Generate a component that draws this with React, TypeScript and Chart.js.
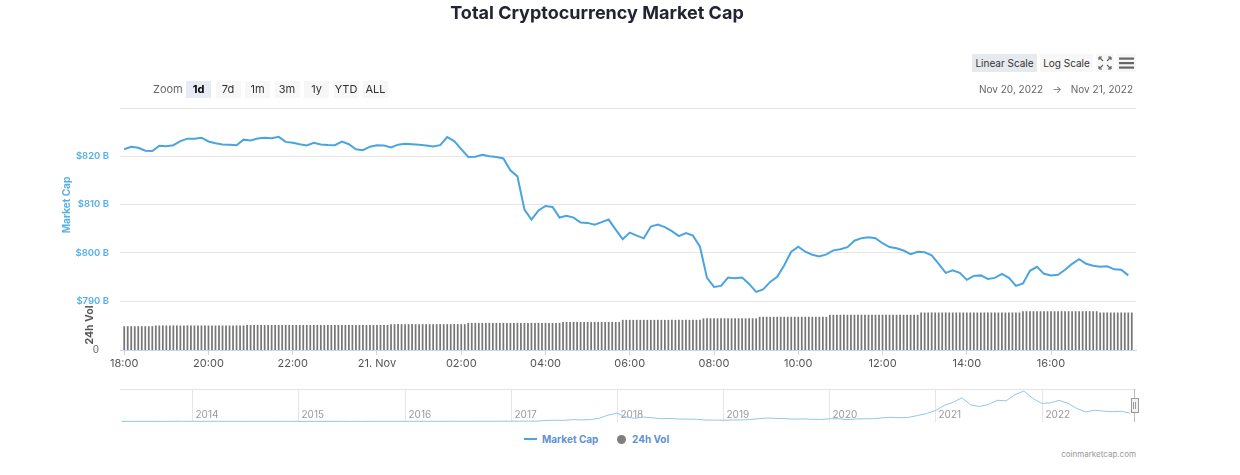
import React, { useEffect, useRef } from "react";
import { Chart, registerables } from "chart.js";

Chart.register(...registerables);

// ---------- DATA ----------
// x positions in minutes after 20 Nov 2022 18:00
const hourTickMinutes = [0, 120, 240, 360, 480, 600, 720, 840, 960, 1080, 1200, 1320];
const hourTickLabels = ["18:00", "20:00", "22:00", "21. Nov", "02:00", "04:00", "06:00", "08:00", "10:00", "12:00", "14:00", "16:00"];

const capTickValues = [790, 800, 810, 820, 830];
const capTickLabels = ["$790 B", "$800 B", "$810 B", "$820 B", ""];

const capStepMinutes = 10;
// total market cap, $ billions, one value every 10 minutes from 18:00
const marketCap = [
  821.46, 821.98, 821.77, 821.15, 821.10, 822.19, 822.08, 822.29, 823.13, 823.65, 823.65, 823.85,
  823.06, 822.71, 822.44, 822.40, 822.29, 823.44, 823.27, 823.69, 823.81, 823.75, 824.02, 822.98,
  822.81, 822.50, 822.23, 822.77, 822.44, 822.33, 822.29, 823.02, 822.50, 821.46, 821.25, 821.98,
  822.29, 822.23, 821.81, 822.40, 822.60, 822.50, 822.40, 822.23, 822.02, 822.29, 823.96, 823.13,
  821.46, 819.85, 819.90, 820.31, 820.00, 819.85, 819.54, 817.08, 815.83, 808.96, 806.88, 808.75,
  809.69, 809.48, 807.29, 807.65, 807.29, 806.25, 806.19, 805.83, 806.35, 806.88, 804.79, 802.81,
  804.17, 803.54, 802.98, 805.42, 805.83, 805.31, 804.48, 803.44, 804.06, 803.54, 801.25, 794.79,
  792.92, 793.13, 794.85, 794.73, 794.85, 793.54, 791.88, 792.40, 793.96, 795.00, 797.40, 800.21,
  801.25, 800.21, 799.58, 799.25, 799.65, 800.50, 800.71, 801.15, 802.50, 803.02, 803.23, 803.02,
  801.98, 801.19, 800.94, 800.46, 799.69, 800.21, 800.10, 799.48, 797.71, 795.83, 796.35, 795.83,
  794.38, 795.21, 795.31, 794.58, 794.79, 795.63, 794.79, 793.13, 793.65, 796.25, 797.08, 795.63,
  795.31, 795.42, 796.46, 797.71, 798.65, 797.71, 797.29, 797.08, 797.19, 796.56, 796.46, 795.31,
];

const volStepMinutes = 5;
// 24h volume, $ billions, one bar every 5 minutes from 18:00
const volume24h = [
  38.8, 38.8, 38.9, 38.8, 38.8, 38.9, 38.8, 38.8, 38.9, 40.0, 40.0, 40.1,
  40.0, 40.0, 40.1, 40.0, 40.0, 40.0, 40.1, 40.0, 40.0, 40.1, 40.0, 40.0,
  40.0, 40.1, 40.0, 40.0, 40.0, 40.1, 40.0, 40.0, 40.1, 40.0, 40.0, 40.8,
  40.8, 40.8, 40.9, 40.8, 40.8, 40.8, 40.9, 40.8, 40.8, 40.8, 40.9, 40.8,
  40.8, 40.8, 40.9, 40.8, 40.8, 40.8, 40.9, 40.8, 40.8, 40.8, 40.9, 40.8,
  40.8, 40.8, 40.9, 40.8, 40.8, 40.8, 40.9, 40.8, 40.8, 40.8, 40.9, 40.8,
  40.8, 40.8, 40.9, 40.8, 42.2, 42.2, 42.3, 42.2, 42.2, 42.2, 42.3, 42.2,
  42.2, 42.2, 42.3, 42.2, 42.2, 42.2, 42.3, 42.2, 42.2, 42.2, 42.3, 42.2,
  42.2, 42.2, 44.2, 44.2, 44.3, 44.2, 44.2, 44.2, 44.3, 44.2, 44.2, 44.2,
  44.3, 44.2, 44.2, 44.2, 44.3, 44.2, 44.2, 44.2, 44.3, 44.2, 44.2, 44.2,
  44.3, 44.2, 44.2, 44.2, 44.3, 45.8, 45.8, 45.9, 45.8, 45.8, 45.8, 45.9,
  45.8, 45.8, 45.8, 45.9, 45.8, 45.8, 45.8, 45.9, 45.8, 45.8, 49.2, 49.2,
  49.3, 49.2, 49.2, 49.2, 49.3, 49.2, 49.2, 49.2, 49.3, 49.2, 49.2, 49.2,
  49.3, 49.2, 49.2, 49.2, 49.3, 49.2, 49.2, 49.2, 49.3, 51.7, 51.7, 51.8,
  51.7, 51.7, 51.7, 51.8, 51.7, 51.7, 51.7, 51.8, 51.7, 51.7, 51.7, 51.8,
  51.7, 54.2, 54.2, 54.3, 54.2, 54.2, 54.2, 54.3, 54.2, 54.2, 54.2, 54.3,
  54.2, 54.2, 54.2, 54.3, 54.2, 54.2, 54.2, 54.3, 54.2, 57.5, 57.5, 57.6,
  57.5, 57.5, 57.5, 57.6, 57.5, 57.5, 57.5, 57.6, 57.5, 57.5, 57.5, 57.6,
  57.5, 57.5, 57.5, 57.6, 57.5, 57.5, 57.5, 57.6, 57.5, 57.5, 57.5, 61.2,
  61.2, 61.2, 61.3, 61.2, 61.2, 61.2, 61.3, 61.2, 61.2, 61.2, 61.3, 61.2,
  61.2, 61.2, 61.3, 61.2, 61.2, 61.2, 61.3, 61.2, 61.2, 61.2, 61.3, 61.2,
  61.2, 61.2, 61.3, 61.2, 63.3, 63.3, 63.4, 63.3, 63.3, 63.3, 63.4, 63.3,
  63.3, 63.3, 63.4, 63.3, 63.3, 63.3, 63.4, 63.3, 63.3, 63.3, 63.4, 63.3,
  63.3, 63.3, 61.2, 61.2, 61.3, 61.2, 61.2, 61.2, 61.3, 61.2, 61.2, 61.2,
];

// navigator: monthly total market cap, $ billions, from May 2013 to Nov 2022
const navStartYear = 2013;
const navStartMonth = 5;
const navMarketCap = [
  1.5, 1.2, 1.1, 1.4, 1.6, 2.3, 12, 9,
  10, 7.5, 6.5, 6, 7, 8, 7.5, 6.2, 5.5, 4.8, 5.3, 4.5,
  3.5, 3.4, 3.6, 3.3, 3.3, 3.6, 4.4, 3.9, 3.6, 4.6, 6, 7,
  6.8, 7.5, 7, 7.8, 9, 11.5, 10.5, 9.7, 10.5, 11.5, 12.5, 17.7,
  17.5, 20, 25, 30, 90, 110, 95, 170, 145, 175, 300, 610,
  800, 450, 300, 420, 350, 260, 290, 220, 220, 205, 130, 125,
  115, 135, 140, 175, 260, 330, 290, 260, 220, 240, 200, 190,
  250, 260, 180, 230, 255, 260, 340, 400, 350, 400, 570, 760,
  1050, 1550, 1850, 2300, 1600, 1450, 1650, 2050, 2000, 2600, 2950, 2250,
  1750, 1800, 2050, 1750, 1250, 920, 1080, 1000, 940, 990, 800,
];
const navYears = [2014, 2015, 2016, 2017, 2018, 2019, 2020, 2021, 2022];

const zoomButtons = ["1d", "7d", "1m", "3m", "1y", "YTD", "ALL"];

// ---------- STYLE ----------
const FONT = "Inter, 'Noto Sans', sans-serif";
const LINE_BLUE = "#4aa5de";
const LABEL_BLUE = "#55afe6";

const navPlugin = {
  id: "navDecor",
  beforeDatasetsDraw(chart: any) {
    const { ctx, chartArea } = chart;
    const xs = chart.scales.x;
    ctx.save();
    ctx.strokeStyle = "#e3e3e3";
    ctx.lineWidth = 1;
    ctx.beginPath();
    ctx.moveTo(chartArea.left, Math.round(chartArea.top) + 0.5);
    ctx.lineTo(chartArea.right, Math.round(chartArea.top) + 0.5);
    ctx.stroke();
    ctx.font = `10px ${FONT}`;
    ctx.fillStyle = "#9a9a9a";
    ctx.textBaseline = "alphabetic";
    for (const yr of navYears) {
      const px = Math.round(xs.getPixelForValue(yr)) + 0.5;
      ctx.strokeStyle = "#e6e6e6";
      ctx.beginPath();
      ctx.moveTo(px, chartArea.top);
      ctx.lineTo(px, chartArea.bottom);
      ctx.stroke();
      ctx.fillText(String(yr), px + 3, chartArea.bottom - 4);
    }
    ctx.restore();
  },
  afterDatasetsDraw(chart: any) {
    const { ctx, chartArea } = chart;
    ctx.save();
    const hx = chartArea.right - 2;
    ctx.strokeStyle = "#bbbbbb";
    ctx.lineWidth = 1;
    ctx.beginPath();
    ctx.moveTo(hx + 0.5, chartArea.top);
    ctx.lineTo(hx + 0.5, chartArea.bottom);
    ctx.stroke();
    ctx.fillStyle = "#f2f2f2";
    ctx.strokeStyle = "#999999";
    ctx.fillRect(hx - 3, chartArea.top + 9, 7, 14);
    ctx.strokeRect(hx - 3 + 0.5, chartArea.top + 9 + 0.5, 7, 14);
    ctx.beginPath();
    ctx.moveTo(hx - 0.5, chartArea.top + 13);
    ctx.lineTo(hx - 0.5, chartArea.top + 20);
    ctx.moveTo(hx + 1.5, chartArea.top + 13);
    ctx.lineTo(hx + 1.5, chartArea.top + 20);
    ctx.stroke();
    ctx.restore();
  },
};

function MainChart() {
  const ref = useRef<HTMLCanvasElement | null>(null);
  useEffect(() => {
    if (!ref.current) return;
    const chart = new Chart(ref.current, {
      type: "bar",
      data: {
        datasets: [
          {
            type: "line",
            label: "Market Cap",
            data: marketCap.map((v, i) => ({ x: i * capStepMinutes, y: v })),
            yAxisID: "y",
            borderColor: LINE_BLUE,
            borderWidth: 2,
            pointRadius: 0,
            tension: 0,
            order: 0,
          } as any,
          {
            type: "bar",
            label: "24h Vol",
            data: volume24h.map((v, i) => ({ x: i * volStepMinutes, y: v })),
            yAxisID: "yv",
            backgroundColor: "#777777",
            barPercentage: 1,
            categoryPercentage: 0.5,
            order: 1,
          } as any,
        ],
      },
      options: {
        animation: false,
        responsive: false,
        maintainAspectRatio: false,
        layout: { padding: { left: 0, right: 104, top: 108, bottom: 0 } },
        plugins: { legend: { display: false }, tooltip: { enabled: false }, title: { display: false } },
        scales: {
          x: {
            type: "linear",
            offset: false,
            min: -6,
            max: 1441,
            afterBuildTicks: (s: any) => {
              s.ticks = hourTickMinutes.map((v) => ({ value: v }));
            },
            afterFit: (s: any) => {
              s.height = 30;
            },
            ticks: {
              autoSkip: false,
              maxRotation: 0,
              padding: 2,
              color: "#555555",
              font: { family: FONT, size: 11 },
              callback: (v: any) => {
                const i = hourTickMinutes.indexOf(Number(v));
                return i >= 0 ? hourTickLabels[i] : "";
              },
            },
            grid: { offset: false, drawOnChartArea: false, drawTicks: true, tickLength: 5, color: "#ccd6eb" },
            border: { display: true, color: "#ccd6eb" },
          },
          y: {
            type: "linear",
            position: "left",
            stack: "panes",
            stackWeight: 193,
            weight: 1,
            min: 790,
            max: 830,
            afterBuildTicks: (s: any) => {
              s.ticks = capTickValues.map((v) => ({ value: v }));
            },
            afterFit: (s: any) => {
              s.width = 120;
            },
            ticks: {
              padding: 11,
              color: LABEL_BLUE,
              font: { family: FONT, size: 9.5, weight: "600" as any },
              callback: (v: any) => {
                const i = capTickValues.indexOf(Number(v));
                return i >= 0 ? capTickLabels[i] : "";
              },
            },
            grid: { color: "#e6e6e6", drawTicks: false },
            border: { display: false },
          },
          yv: {
            type: "linear",
            position: "left",
            stack: "panes",
            stackWeight: 49,
            weight: 0,
            min: 0,
            max: 80,
            afterBuildTicks: (s: any) => {
              s.ticks = [{ value: 0 }];
            },
            afterFit: (s: any) => {
              s.width = 120;
            },
            ticks: {
              padding: 13,
              color: "#666666",
              font: { family: FONT, size: 10 },
            },
            grid: { display: false },
            border: { display: false },
          },
        } as any,
      },
    });
    return () => chart.destroy();
  }, []);
  return (
    <canvas
      ref={ref}
      width={1240}
      height={380}
      style={{ position: "absolute", left: 0, top: 0, width: 1240, height: 380, display: "block" }}
    />
  );
}

function NavigatorChart() {
  const ref = useRef<HTMLCanvasElement | null>(null);
  useEffect(() => {
    if (!ref.current) return;
    const chart = new Chart(ref.current, {
      type: "line",
      data: {
        datasets: [
          {
            label: "Navigator",
            data: navMarketCap.map((v, i) => ({ x: navStartYear + (navStartMonth - 1 + i) / 12, y: v })),
            borderColor: "#93c6e8",
            borderWidth: 1,
            pointRadius: 0,
            tension: 0,
          },
        ],
      },
      options: {
        animation: false,
        responsive: false,
        maintainAspectRatio: false,
        layout: { padding: { left: 120, right: 104, top: 9, bottom: 8 } },
        plugins: { legend: { display: false }, tooltip: { enabled: false } },
        scales: {
          x: { type: "linear", min: 2013.32, max: 2022.89, display: false },
          y: { type: "linear", min: -60, max: 3150, display: false },
        },
      },
      plugins: [navPlugin],
    });
    return () => chart.destroy();
  }, []);
  return (
    <canvas
      ref={ref}
      width={1240}
      height={50}
      style={{ position: "absolute", left: 0, top: 380, width: 1240, height: 50, display: "block" }}
    />
  );
}

const abs = (l: number, t: number, extra: React.CSSProperties = {}): React.CSSProperties => ({
  position: "absolute",
  left: l,
  top: t,
  whiteSpace: "nowrap",
  fontFamily: FONT,
  ...extra,
});

export default function App() {
  return (
    <div style={{ position: "absolute", left: 0, top: 0, width: 1240, height: 475, background: "#fff", overflow: "hidden" }}>
      <MainChart />
      <NavigatorChart />

      <div style={abs(347, 1, { width: 500, textAlign: "center", fontSize: 18, fontWeight: 700, color: "#222531", lineHeight: "24px" })}>
        Total Cryptocurrency Market Cap
      </div>

      {/* zoom row */}
      <div style={abs(153, 81, { fontSize: 11, color: "#666", lineHeight: "17px" })}>Zoom</div>
      {zoomButtons.map((b, i) => (
        <div
          key={b}
          style={abs(186 + i * 29.5, 81, {
            width: 25,
            height: 17,
            lineHeight: "17px",
            textAlign: "center",
            fontSize: 11,
            background: i === 0 ? "#e6ebf5" : "#f7f7f7",
            fontWeight: i === 0 ? 700 : 400,
            color: i === 0 ? "#000" : "#333",
          })}
        >
          {b}
        </div>
      ))}

      {/* scale buttons */}
      <div style={abs(972, 54, { width: 65, height: 18, lineHeight: "18px", textAlign: "center", fontSize: 10, background: "#e6e9ee", color: "#333" })}>
        Linear Scale
      </div>
      <div style={abs(1040, 54, { width: 53, height: 18, lineHeight: "18px", textAlign: "center", fontSize: 10, background: "#f7f7f7", color: "#333" })}>
        Log Scale
      </div>
      <div style={abs(1096, 54, { width: 18, height: 18, background: "#f7f7f7" })}>
        <svg width="18" height="18" viewBox="0 0 18 18">
          <g stroke="#666" strokeWidth="1.2" fill="none">
            <path d="M3 3 L7 7 M3 3 L3 6 M3 3 L6 3" />
            <path d="M15 3 L11 7 M15 3 L15 6 M15 3 L12 3" />
            <path d="M3 15 L7 11 M3 15 L3 12 M3 15 L6 15" />
            <path d="M15 15 L11 11 M15 15 L15 12 M15 15 L12 15" />
          </g>
        </svg>
      </div>
      <div style={abs(1117, 54, { width: 19, height: 18, background: "#f7f7f7" })}>
        <svg width="19" height="18" viewBox="0 0 19 18">
          <g fill="#666">
            <rect x="2" y="3.5" width="15" height="2.2" />
            <rect x="2" y="8" width="15" height="2.2" />
            <rect x="2" y="12.5" width="15" height="2.2" />
          </g>
        </svg>
      </div>

      {/* date range */}
      <div style={abs(933, 81, { width: 200, textAlign: "right", fontSize: 10, color: "#666", lineHeight: "17px" })}>
        Nov 20, 2022<span style={{ margin: "0 9px" }}>→</span>Nov 21, 2022
      </div>

      {/* axis titles */}
      <div
        style={abs(66, 205, {
          transform: "translate(-50%, -50%) rotate(-90deg)",
          fontSize: 10,
          fontWeight: 700,
          color: LABEL_BLUE,
          lineHeight: "12px",
        })}
      >
        Market Cap
      </div>
      <div
        style={abs(90, 325, {
          transform: "translate(-50%, -50%) rotate(-90deg)",
          fontSize: 10.5,
          fontWeight: 700,
          color: "#555",
          lineHeight: "12px",
        })}
      >
        24h Vol
      </div>

      {/* legend */}
      <div style={abs(524, 438, { width: 13, height: 2, background: LINE_BLUE })} />
      <div style={abs(542, 432, { fontSize: 10, fontWeight: 700, color: "#6190d4", lineHeight: "14px" })}>Market Cap</div>
      <div style={abs(616.5, 434.5, { width: 9, height: 9, borderRadius: "50%", background: "#7f7f7f" })} />
      <div style={abs(632, 432, { fontSize: 10, fontWeight: 700, color: "#6190d4", lineHeight: "14px" })}>24h Vol</div>

      {/* credit */}
      <div style={abs(936, 449, { width: 200, textAlign: "right", fontSize: 8, color: "#999", lineHeight: "10px" })}>
        coinmarketcap.com
      </div>
    </div>
  );
}
